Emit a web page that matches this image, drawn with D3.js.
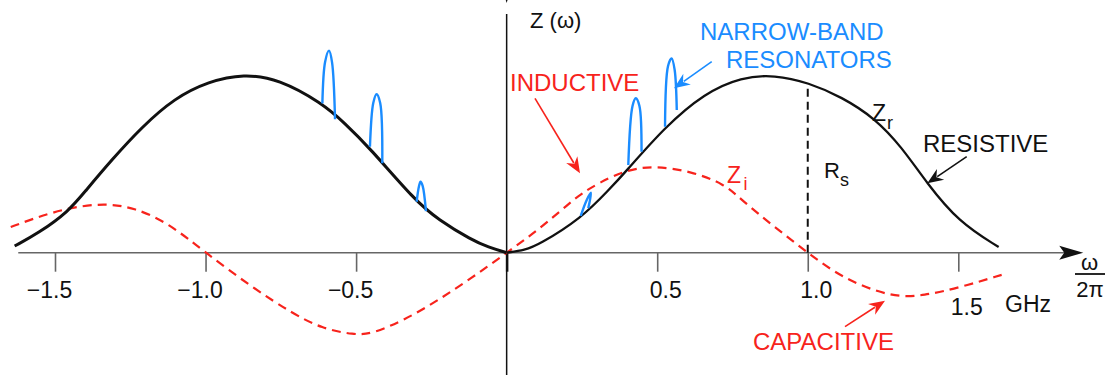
<!DOCTYPE html>
<html>
<head>
<meta charset="utf-8">
<script src="https://cdn.jsdelivr.net/npm/d3@7"></script>
<style>
  body { margin: 0; background: #fff; }
  svg { display: block; font-family: "Liberation Sans", Arial, sans-serif; }
</style>
</head>
<body>
<svg id="chart" width="1117" height="377"></svg>
<script>
// frequency ticks (GHz)
const tickValues = [-1.5, -1.0, -0.5, 0, 0.5, 1.0, 1.5];
const tickLabels = ['−1.5', '−1.0', '−0.5', '', '0.5', '1.0', '1.5'];

// Zr (resistive), [f, value]
const zrLeft = [
  [-1.634, 0.038], [-1.554, 0.112], [-1.455, 0.235], [-1.402, 0.345],
  [-1.312, 0.528], [-1.212, 0.715], [-1.103, 0.880], [-0.990, 0.975],
  [-0.873, 1.018], [-0.757, 0.988], [-0.614, 0.852], [-0.538, 0.738],
  [-0.455, 0.597], [-0.306, 0.300], [-0.226, 0.186], [-0.116, 0.072],
  [-0.061, 0.031], [0, 0],
];
const zrRight = [
  [0, 0], [0.061, 0.015], [0.106, 0.044], [0.249, 0.197], [0.339, 0.357],
  [0.392, 0.454], [0.525, 0.715], [0.658, 0.909], [0.780, 1.000],
  [0.890, 1.012], [1.003, 0.968], [1.113, 0.886], [1.222, 0.767],
  [1.312, 0.602], [1.395, 0.397], [1.501, 0.175], [1.634, 0.032],
];

// Zi (reactive)
const zi = [
  [-1.647, 0.146], [-1.568, 0.197], [-1.455, 0.256], [-1.335, 0.282],
  [-1.235, 0.256], [-1.123, 0.169], [-1.0, 0], [-0.847, -0.195],
  [-0.714, -0.343], [-0.614, -0.432], [-0.505, -0.468], [-0.448, -0.462],
  [-0.339, -0.383], [-0.226, -0.269], [-0.116, -0.144], [0, 0],
  [0.105, 0.129], [0.209, 0.283], [0.252, 0.340], [0.306, 0.397],
  [0.399, 0.473], [0.492, 0.494], [0.614, 0.463], [0.725, 0.390],
  [0.780, 0.300], [0.890, 0.146], [1.0, 0], [1.113, -0.144],
  [1.279, -0.256], [1.388, -0.244], [1.501, -0.200], [1.644, -0.126],
];

// narrow-band resonator spikes riding on Zr
const resonators = [
  [[-0.612, 0.850], [-0.603, 1.085], [-0.590, 1.150], [-0.580, 1.085], [-0.570, 0.759]],
  [[-0.454, 0.603], [-0.443, 0.852], [-0.432, 0.902], [-0.420, 0.852], [-0.413, 0.509]],
  [[-0.299, 0.290], [-0.291, 0.380], [-0.286, 0.404], [-0.279, 0.380], [-0.268, 0.237]],
  [[0.246, 0.209], [0.266, 0.300], [0.280, 0.341], [0.271, 0.253]],
  [[0.404, 0.499], [0.418, 0.835], [0.429, 0.879], [0.441, 0.835], [0.448, 0.575]],
  [[0.526, 0.717], [0.536, 1.063], [0.548, 1.106], [0.558, 1.040], [0.565, 0.812]],
];

const rsValue = 0.966; // Zr at 1.0 GHz
const axisExtent = [-1.622, 1.915];

const BLACK = '#111';
const RED = '#f7231c';
const BLUE = '#1a8cff';
const GRAY = '#666';

const svg = d3.select('#chart');
const x = d3.scaleLinear().domain([-1.5, 1.5]).range([55, 958.3]);
const y = d3.scaleLinear().domain([0, 1]).range([252.7, 77]);

const smooth = d3.line()
  .x(d => x(d[0]))
  .y(d => y(d[1]))
  .curve(d3.curveBasis);

const spike = d3.line()
  .x(d => x(d[0]))
  .y(d => y(d[1]))
  .curve(d3.curveCatmullRom);

const arrowHead = (g, x2, y2, angle, color, len = 16, half = 6.5) => {
  g.append('path')
    .attr('d', `M0,0 L${-len},${-half} L${-len + 5},0 L${-len},${half} Z`)
    .attr('transform', `translate(${x2},${y2}) rotate(${angle})`)
    .attr('fill', color);
};

const arrow = (x1, y1, x2, y2, color) => {
  const angle = (Math.atan2(y2 - y1, x2 - x1) * 180) / Math.PI;
  const g = svg.append('g');
  const dist = Math.hypot(x2 - x1, y2 - y1);
  const k = (dist - 12) / dist;
  g.append('line')
    .attr('x1', x1).attr('y1', y1)
    .attr('x2', x1 + (x2 - x1) * k).attr('y2', y1 + (y2 - y1) * k)
    .attr('stroke', color).attr('stroke-width', 1.6);
  arrowHead(g, x2, y2, angle, color);
};

// x axis line + arrow
svg.append('line')
  .attr('x1', x(axisExtent[0])).attr('x2', x(axisExtent[1]) - 10)
  .attr('y1', y(0)).attr('y2', y(0))
  .attr('stroke', GRAY).attr('stroke-width', 1.6);
arrowHead(svg, x(axisExtent[1]), y(0), 0, BLACK, 24, 7);

// y axis line + arrow
svg.append('line')
  .attr('x1', x(0)).attr('x2', x(0))
  .attr('y1', 375).attr('y2', 14)
  .attr('stroke', BLACK).attr('stroke-width', 1.5);
arrowHead(svg, x(0), 3, 90, BLACK, 25, 7.5);

// ticks
const xAxis = svg.append('g')
  .attr('transform', `translate(0,${y(0)})`)
  .call(d3.axisBottom(x).tickValues(tickValues).tickSize(19)
    .tickFormat((d, i) => tickLabels[i]))
  .call(g => g.select('.domain').remove());

xAxis.selectAll('.tick line')
  .attr('stroke', d => (d === 0 ? BLACK : GRAY))
  .attr('stroke-width', d => (d === 0 ? 2.5 : 1.6));

xAxis.selectAll('.tick text')
  .attr('fill', BLACK)
  .attr('font-size', 23)
  .attr('font-family', '"Liberation Sans", Arial, sans-serif')
  .attr('dy', null)
  .attr('x', d => (d < 0 ? -6 : 8))
  .attr('y', d => (d === 1.5 ? 62.5 : 45.5));

// Rs dashed line
svg.append('line')
  .attr('x1', x(1)).attr('x2', x(1))
  .attr('y1', y(0)).attr('y2', y(rsValue))
  .attr('stroke', BLACK).attr('stroke-width', 2)
  .attr('stroke-dasharray', '8,5');

// Zi
svg.append('path')
  .attr('d', smooth(zi))
  .attr('fill', 'none')
  .attr('stroke', RED)
  .attr('stroke-width', 2.2)
  .attr('stroke-dasharray', '9,6');

// Zr
svg.append('path')
  .attr('d', smooth(zrLeft))
  .attr('fill', 'none').attr('stroke', BLACK).attr('stroke-width', 3);
svg.append('path')
  .attr('d', smooth(zrRight))
  .attr('fill', 'none').attr('stroke', BLACK).attr('stroke-width', 2.3);

// resonators
svg.selectAll('.res')
  .data(resonators)
  .join('path')
  .attr('class', 'res')
  .attr('d', d => spike(d))
  .attr('fill', 'none')
  .attr('stroke', BLUE)
  .attr('stroke-width', 2.4)
  .attr('stroke-linejoin', 'round');

// text
const label = (t, tx, ty, color, size, anchor = 'start') =>
  svg.append('text')
    .attr('x', tx).attr('y', ty)
    .attr('fill', color).attr('font-size', size)
    .attr('text-anchor', anchor)
    .text(t);

label('Z (ω)', 530, 27.5, BLACK, 22);
label('NARROW-BAND', 700, 40, BLUE, 24);
label('RESONATORS', 726, 68, BLUE, 24);
label('INDUCTIVE', 510, 90.5, RED, 24);
label('RESISTIVE', 923, 151.5, BLACK, 24);
label('CAPACITIVE', 753, 350, RED, 24);
label('GHz', 1005, 311.5, BLACK, 23);

label('Z', 872, 120.5, BLACK, 23);
label('r', 887, 128.5, BLACK, 18);
label('R', 824, 177.5, BLACK, 22);
label('s', 840, 185.5, BLACK, 18);
label('Z', 727, 183, RED, 23);
label('i', 743.5, 190, RED, 18);

// ω / 2π fraction
label('ω', 1089.5, 270, BLACK, 22, 'middle');
svg.append('line')
  .attr('x1', 1075).attr('x2', 1105)
  .attr('y1', 274).attr('y2', 274)
  .attr('stroke', BLACK).attr('stroke-width', 1.8);
label('2π', 1090, 297, BLACK, 22, 'middle');

// annotation arrows
arrow(711.7, 61.7, 674, 88.3, BLUE);
arrow(535, 98.3, 580, 173.3, RED);
arrow(966.7, 156.7, 927.3, 183.3, BLACK);
arrow(845, 326.7, 885, 300.7, RED);
</script>
</body>
</html>
